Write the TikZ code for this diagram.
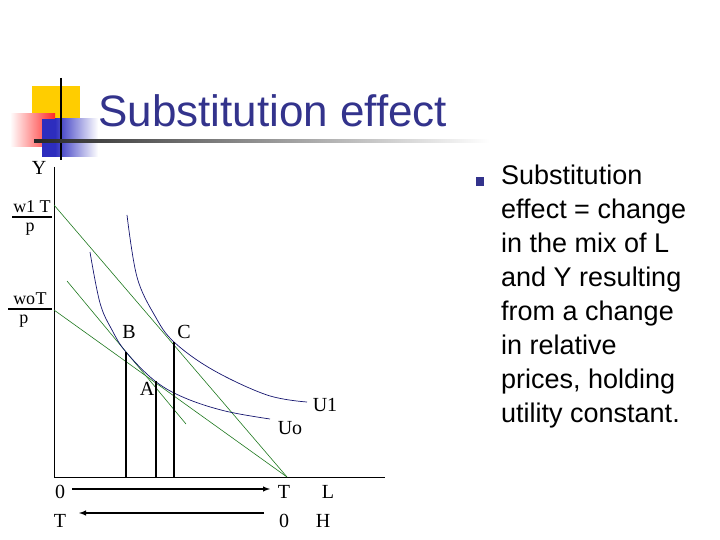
\documentclass[tikz,border=0pt]{standalone}
\usepackage{fontspec}
\setmainfont{Liberation Serif}
\newfontfamily\sans{Liberation Sans}
\definecolor{ttl}{RGB}{51,51,140}
\definecolor{gl}{RGB}{30,120,30}
\definecolor{cv}{RGB}{20,20,110}
\definecolor{gold}{RGB}{255,205,0}
\definecolor{lblue}{RGB}{45,45,190}
\begin{document}
\begin{tikzpicture}[x=1pt,y=-1pt,
  lbl/.style={font=\fontsize{20}{20}\selectfont,inner sep=0pt},
  frac/.style={font=\fontsize{18}{18}\selectfont,inner sep=0pt},
  bud/.style={gl,line width=0.6pt},
  ic/.style={cv,line width=0.7pt},
  vl/.style={black,line width=1.4pt},
  arr/.style={black,line width=1.4pt,-latex}]
\useasboundingbox (0,0) rectangle (720,540);
% logo
\fill[gold] (32,86) rectangle (80,118);
\shade[left color=white,right color=red!85] (10,114) rectangle (55,147);
\shade[left color=lblue,right color=white] (55,119) rectangle (98,157);
\fill[lblue] (42,119) rectangle (55,157);
\draw[line width=1.5pt] (61,78) -- (61,160);
\shade[left color=black!85,right color=white] (34,140) rectangle (490,142.5);
\node[anchor=base west,inner sep=0pt,text=ttl,font=\sans\fontsize{44}{44}\selectfont] (title) at (98,127) {Substitution effect};
% bullet text
\fill[ttl] (476,177) rectangle (484,186);
\node[anchor=north west,inner sep=0pt,align=left,font=\sans\fontsize{27}{34}\selectfont] (txt) at (501,165)
 {Substitution\\effect = change\\in the mix of L\\and Y resulting\\from a change\\in relative\\prices, holding\\utility constant.};
% axes
\coordinate (O) at (54,477);
\coordinate (Ytop) at (54,167);
\coordinate (Xend) at (385,477);
\draw[line width=0.8pt] (Ytop) -- (O) -- (Xend);
\coordinate (T) at (287,477);
\coordinate (I1) at (54,205);
\coordinate (I0) at (54,310);
\draw[bud] (I1) -- (T);
\draw[bud] (I0) -- (T);
\coordinate (c1) at (67,281); \coordinate (c2) at (186,424);
\draw[bud] (c1) -- (c2);
% curves
\draw[ic] plot[smooth,tension=0.6] coordinates {(90,252) (100,303) (112,330) (126,352) (155,381) (185,398) (225,411) (270,419)};
\draw[ic] plot[smooth,tension=0.6] coordinates {(127,215) (137,277) (155,316) (174,342) (213,370) (267,395) (307,402)};
% verticals
\coordinate (B) at (126,352); \coordinate (A) at (156,381); \coordinate (C) at (174,342);
\coordinate (Bb) at (126,477); \coordinate (Ab) at (156,477); \coordinate (Cb) at (174,477);
\draw[vl] (B) -- (Bb); \draw[vl] (A) -- (Ab); \draw[vl] (C) -- (Cb);
% labels
\node[lbl] (lY) at (39,168) {Y};
\node[lbl] (lB) at (129,332) {B};
\node[lbl] (lC) at (184,332) {C};
\node[lbl] (lA) at (147,389) {A};
\node[lbl] (lUo) at (290,428) {Uo};
\node[lbl] (lU1) at (325,405) {U1};
\node[frac] (n1) at (32,207) {w1 T};
\draw[line width=1.2pt] (12,217) -- (52,217);
\node[frac] (d1) at (30,229) {p};
\node[frac] (n0) at (30,299) {wo\hspace{0.5pt}T};
\draw[line width=1.2pt] (8,309) -- (52,309);
\node[frac] (d0) at (24,321) {p};
\node[lbl] (z1) at (60,492) {0};
\node[lbl] (t1) at (60,521) {T};
\node[lbl] (t2) at (284,492) {T};
\node[lbl] (L) at (328,492) {L};
\node[lbl] (z2) at (284,521) {0};
\node[lbl] (H) at (323,521) {H};
\draw[arr] (72,489) coordinate (a1) -- (270,489) coordinate (a2);
\draw[arr] (264,513) coordinate (b1) -- (79,513) coordinate (b2);
\end{tikzpicture}
\end{document}
